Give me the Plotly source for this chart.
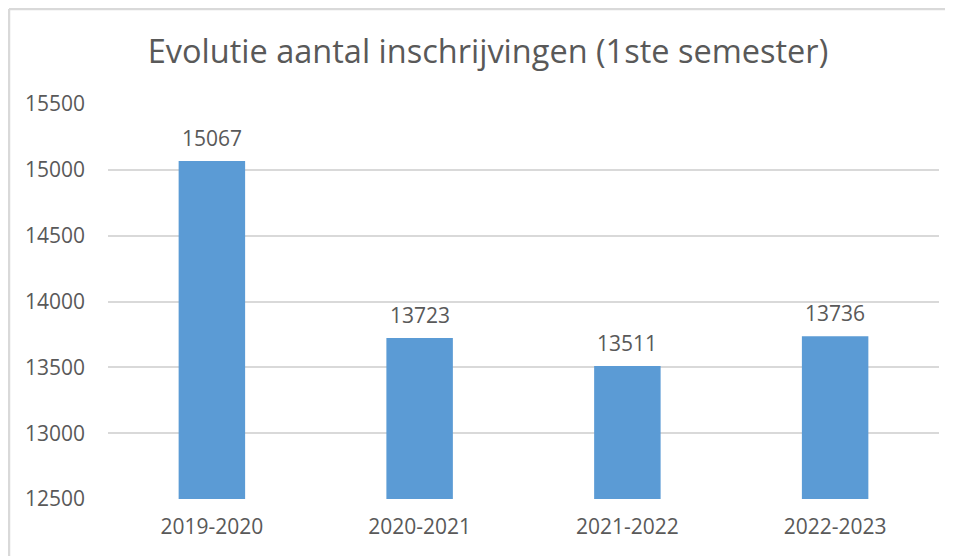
import plotly.graph_objects as go

categories = ["2019-2020", "2020-2021", "2021-2022", "2022-2023"]
values = [15067, 13723, 13511, 13736]
y_ticks = [12500, 13000, 13500, 14000, 14500, 15000, 15500]
y_tick_labels = [str(t) for t in y_ticks]
title_text = "Evolutie aantal inschrijvingen (1ste semester)"

FONT = "Open Sans"
TXT = "#595959"

# page has an 8px body margin; figure coordinates are offset accordingly
W, H = 955, 556
L, R, T, B = 100, 24, 96, 65
PW, PH = W - L - R, H - T - B

fig = go.Figure()
fig.add_trace(go.Bar(
    x=categories, y=values, marker=dict(color="#5B9BD5", line=dict(width=0)),
    width=0.32, hoverinfo="x+y",
))

for c, v in zip(categories, values):
    fig.add_annotation(x=c, y=v, text=str(v), showarrow=False, yshift=23,
                       yanchor="middle", font=dict(family=FONT, size=21, color=TXT))

fig.update_layout(
    width=W, height=H,
    margin=dict(l=L, r=R, t=T, b=B),
    paper_bgcolor="white", plot_bgcolor="white",
    showlegend=False,
    title=dict(text=title_text, x=480 / W, xref="container", xanchor="center",
               y=1 - 44 / H, yref="container", yanchor="middle",
               font=dict(family=FONT, size=32.5, color=TXT)),
    xaxis=dict(showgrid=False, showline=False, ticks="", zeroline=False,
               ticklabelstandoff=13,
               tickfont=dict(family=FONT, size=21, color=TXT)),
    yaxis=dict(range=[12500, 15500], tickvals=y_ticks, ticktext=y_tick_labels,
               showgrid=True, gridcolor="#D9D9D9", gridwidth=1.5, zeroline=False,
               showline=False, ticks="", ticklabelstandoff=22,
               tickfont=dict(family=FONT, size=21, color=TXT)),
    shapes=[
        dict(type="line", xref="paper", yref="paper",
             x0=(1 - L) / PW, x1=(937 - L) / PW,
             y0=(H - B - 1) / PH, y1=(H - B - 1) / PH,
             line=dict(color="#D9D9D9", width=2.5)),
        dict(type="line", xref="paper", yref="paper",
             x0=(1 - L) / PW, x1=(1 - L) / PW,
             y0=(H - B - 1) / PH, y1=-B / PH,
             line=dict(color="#D9D9D9", width=2.5)),
    ],
)

fig.write_html("out.html")
